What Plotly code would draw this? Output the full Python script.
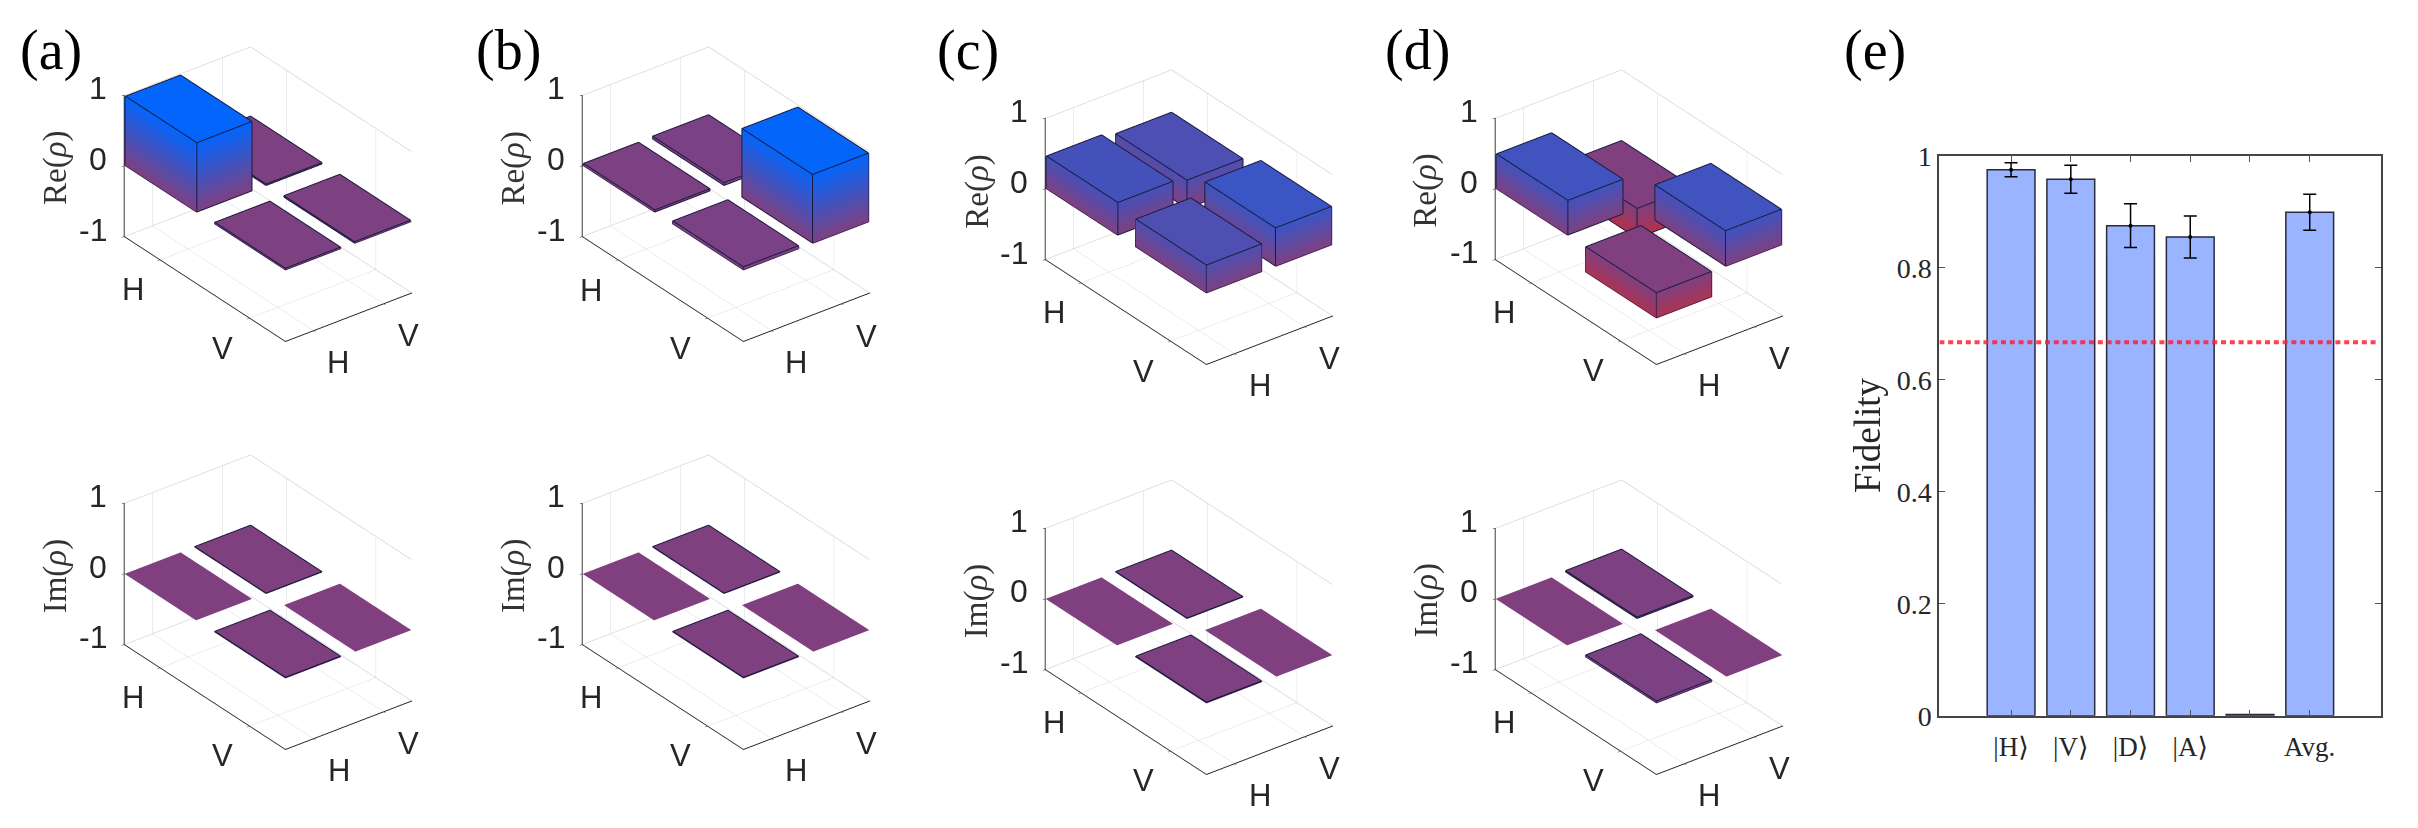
import plotly.graph_objects as go

W, H = 2418, 828
# bar heights: [x1y1, x1y2, x2y1, x2y2]
re_a = [0.98, 0.02, 0.02, 0.02]
re_b = [0.03, 0.04, 0.04, 0.97]
re_c = [0.46, 0.40, 0.39, 0.54]
re_d = [0.49, -0.42, -0.354, 0.50]
im_a = [0.0, 0.005, 0.005, 0.0]
im_b = [0.0, 0.005, 0.005, 0.0]
im_c = [0.0, 0.006, 0.008, 0.0]
im_d = [0.0, 0.02, 0.025, 0.0]
basis_labels = ["H", "V"]
z_ticks = [-1, 0, 1]
# panel anchors: z-axis x px, z=1 y px, z=-1 y px
anchors = {
    "a": (124, 95, 235), "b": (582.3, 94.5, 236), "c": (1045.7, 117.3, 258.7), "d": (1495, 117, 258.5),
    "f": (124.5, 502.3, 643.3), "g": (582.3, 502.3, 643.3), "h": (1045.7, 526.7, 668.3), "i": (1495, 526.7, 668.3),
}
panel_data = {"a": re_a, "b": re_b, "c": re_c, "d": re_d, "f": im_a, "g": im_b, "h": im_c, "i": im_d}
panel_title = {"a": "Re", "b": "Re", "c": "Re", "d": "Re", "f": "Im", "g": "Im", "h": "Im", "i": "Im"}
panel_tags = [("(a)", 51), ("(b)", 508), ("(c)", 968), ("(d)", 1417), ("(e)", 1875)]

fid_labels = ["|H⟩", "|V⟩", "|D⟩", "|A⟩", "", "Avg."]
fid_pos = [1, 2, 3, 4, 5, 6]
fid_vals = [0.975, 0.958, 0.875, 0.855, 0.002, 0.899]
fid_err = [0.0125, 0.025, 0.039, 0.0375, 0.0, 0.032]
threshold = [0.667, 0.667]
threshold_x = [-0.2, 7.13]

EYE = 2.11
ASPECT = 0.86
OFF = (0.009, -0.012, 0.012)
INSET = 0.003
DOM_W, DOM_H = 440, 380
xr = [0.6, 2.4]
lo_b, hi_b = xr[0] + INSET, xr[1] - INSET
fig = go.Figure()

def col(z):
    t = (z + 1) / 2
    r = 255 * (1 - t)
    g = 26 + (102 - 26) * t
    b = 255 * t
    return f"rgb({r:.0f},{g:.0f},{b:.0f})"

def box_traces(vals, scene):
    X, Y, Z, I, J, K, C = [], [], [], [], [], [], []
    ex, ey, ez = [], [], []
    faces = [(0,1,5),(0,5,4),(1,2,6),(1,6,5),(4,5,6),(4,6,7)]
    edges = [(4,5),(5,6),(6,7),(7,4),(0,4),(1,5),(2,6),(0,1),(1,2)]
    centres = [(1,1),(1,2),(2,1),(2,2)]
    n = 0
    for o in [1, 0, 3, 2]:  # back-to-front for this view
        cx, cy = centres[o]
        v = vals[o]
        x0, x1 = max(cx-0.4, lo_b), min(cx+0.4, hi_b)
        y0, y1 = max(cy-0.4, lo_b), min(cy+0.4, hi_b)
        lo, hi = min(0, v), max(0, v)
        pts = [(x0,y0,lo),(x1,y0,lo),(x1,y1,lo),(x0,y1,lo),(x0,y0,hi),(x1,y0,hi),(x1,y1,hi),(x0,y1,hi)]
        for p in pts:
            X.append(p[0]); Y.append(p[1]); Z.append(p[2]); C.append(col(p[2]))
        for f in faces:
            I.append(n+f[0]); J.append(n+f[1]); K.append(n+f[2])
        if v != 0:
            for a, b in edges:
                for p in (pts[a], pts[b]):
                    ex.append(min(p[0]+OFF[0], hi_b)); ey.append(max(p[1]+OFF[1], lo_b)); ez.append(p[2]+OFF[2])
                ex.append(None); ey.append(None); ez.append(None)
        n += 8
    fig.add_trace(go.Mesh3d(x=X, y=Y, z=Z, i=I, j=J, k=K, vertexcolor=C, flatshading=True,
                            hoverinfo="skip", scene=scene,
                            lighting=dict(ambient=1, diffuse=0, specular=0, fresnel=0.2, roughness=0.5)))
    fig.add_trace(go.Scatter3d(x=ex, y=ey, z=ez, mode="lines", line=dict(color="#1b1b3d", width=2),
                               hoverinfo="skip", showlegend=False, scene=scene))
    gx = [lo_b, lo_b, hi_b, None, lo_b, lo_b, hi_b]
    gy = [lo_b, hi_b, hi_b, None, lo_b, hi_b, hi_b]
    gz = [0.998, 0.998, 0.998, None, -0.998, -0.998, -0.998]
    fig.add_trace(go.Scatter3d(x=gx, y=gy, z=gz, mode="lines", line=dict(color="#d8d8d8", width=1.5),
                               hoverinfo="skip", showlegend=False, scene=scene))

def scene_labels():
    out = []
    f = dict(family="Liberation Sans", size=31, color="#262626")
    for val, lab in zip([1, 2], basis_labels):
        out.append(dict(x=val, y=xr[0], z=-1, text=lab, showarrow=False, xanchor="center", yanchor="middle", xshift=-27, yshift=-30, font=f))
        out.append(dict(x=xr[1], y=val, z=-1, text=lab, showarrow=False, xanchor="center", yanchor="middle", xshift=25, yshift=-32, font=f))
    for t in z_ticks:
        out.append(dict(x=xr[0], y=xr[0], z=t, text=str(t), showarrow=False, xanchor="right", yanchor="middle", xshift=-15, yshift=7,
                        font=dict(family="Liberation Sans", size=32, color="#262626")))
    return out

layout_extra = {}
annotations = []
for idx, key in enumerate(anchors):
    ax, z1, zm = anchors[key]
    cx = ax + 143.5
    cy = (z1 + zm) / 2 + 29
    sc = "scene" if idx == 0 else f"scene{idx+1}"
    box_traces(panel_data[key], sc)
    axis_common = dict(showbackground=False, showspikes=False, showgrid=True, gridcolor="#d8d8d8", gridwidth=1,
                       showline=True, linecolor="#222222", linewidth=2, zeroline=False, ticks="outside", ticklen=3,
                       tickcolor="#222222", title=dict(text=""), showticklabels=False)
    layout_extra[sc] = dict(
        domain=dict(x=[(cx-DOM_W/2)/W, (cx+DOM_W/2)/W], y=[1-(cy+DOM_H/2)/H, 1-(cy-DOM_H/2)/H]),
        aspectmode="manual", aspectratio=dict(x=1.62*ASPECT, y=0.975*ASPECT, z=1*ASPECT),
        camera=dict(projection=dict(type="orthographic"), up=dict(x=0, y=0, z=1), center=dict(x=0, y=0, z=0),
                    eye=dict(x=EYE*0.866*0.793, y=-EYE*0.866*0.609, z=EYE*0.5)),
        xaxis=dict(range=xr, tickmode="array", tickvals=[1, 2], **axis_common),
        yaxis=dict(range=xr, tickmode="array", tickvals=[1, 2], **axis_common),
        zaxis=dict(range=[-1, 1], tickmode="array", tickvals=z_ticks, **{**axis_common, "showgrid": False}),
        annotations=scene_labels(),
    )
    annotations.append(dict(text=f"{panel_title[key]}(<i>ρ</i>)", x=(ax-69)/W, y=1-((z1+zm)/2+3)/H, xref="paper", yref="paper",
                            textangle=-90, showarrow=False, xanchor="center", yanchor="middle",
                            font=dict(family="Liberation Serif", size=33, color="#333333")))
for t, x in panel_tags:
    annotations.append(dict(text=t, x=x/W, y=1-50/H, xref="paper", yref="paper", showarrow=False,
                            xanchor="center", yanchor="middle",
                            font=dict(family="Liberation Serif", size=56, color="black")))
annotations.append(dict(text="Fidelity", x=1867/W, y=1-435/H, xref="paper", yref="paper", textangle=-90, showarrow=False,
                        xanchor="center", yanchor="middle", font=dict(family="Liberation Serif", size=37, color="#262626")))

fig.add_trace(go.Bar(x=fid_pos, y=fid_vals, width=0.8, marker=dict(color="#9bb4ff", line=dict(color="#2a2a3a", width=1.5)),
                     xaxis="x", yaxis="y", showlegend=False, hoverinfo="skip"))
fig.add_trace(go.Scatter(x=threshold_x, y=threshold, mode="lines", line=dict(color="rgba(255,30,55,0.85)", width=4, dash="5px,3.8px"),
                         xaxis="x", yaxis="y", showlegend=False, hoverinfo="skip"))
fig.add_trace(go.Scatter(x=fid_pos[:4]+fid_pos[5:], y=fid_vals[:4]+fid_vals[5:], mode="markers", marker=dict(color="black", size=4),
                         error_y=dict(type="data", array=fid_err[:4]+fid_err[5:], color="black", thickness=1.5, width=6.5),
                         xaxis="x", yaxis="y", showlegend=False, hoverinfo="skip"))

fig.update_layout(
    width=W, height=H, margin=dict(l=0, r=0, t=0, b=0, autoexpand=False), paper_bgcolor="white", plot_bgcolor="white", showlegend=False,
    annotations=annotations,
    xaxis=dict(domain=[1939.4/W, 2381.4/W], range=[-0.2, 7.2], tickmode="array", tickvals=fid_pos, ticktext=fid_labels,
               ticks="inside", ticklen=6, tickcolor="#555555", showline=True, linecolor="#444444", linewidth=2, mirror="ticks",
               ticklabelstandoff=6,
               showgrid=False, zeroline=False, tickfont=dict(family="Liberation Serif, DejaVu Serif", size=27, color="#262626")),
    yaxis=dict(domain=[1-715.7/H, 1-155.7/H], range=[0, 1], tickmode="array", tickvals=[0, 0.2, 0.4, 0.6, 0.8, 1],
               ticktext=["0", "0.2", "0.4", "0.6", "0.8", "1"],
               ticks="inside", ticklen=6, tickcolor="#555555", showline=True, linecolor="#444444", linewidth=2, mirror="ticks",
               showgrid=False, zeroline=False, tickfont=dict(family="Liberation Serif", size=28, color="#262626")),
    **layout_extra,
)
fig.write_html("out.html", config={"displayModeBar": False},
               post_script="document.body.style.margin='0';document.documentElement.style.overflow='hidden';")
